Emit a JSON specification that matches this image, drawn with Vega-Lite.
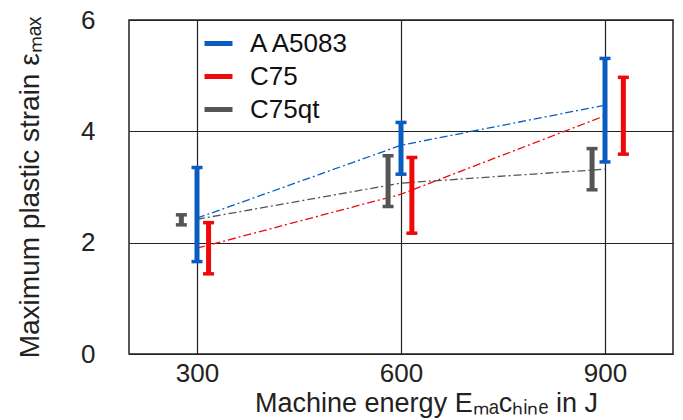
{
  "$schema": "https://vega.github.io/schema/vega-lite/v6.json",
  "width": 544,
  "height": 334,
  "autosize": {"type": "none"},
  "padding": {"left": 129, "top": 20, "right": 10, "bottom": 66},
  "background": "white",
  "config": {
    "view": {"stroke": "#222", "strokeWidth": 1.5},
    "font": "Liberation Sans",
    "axis": {
      "domain": false,
      "ticks": false,
      "grid": true,
      "gridColor": "#222",
      "gridWidth": 1.2,
      "gridOpacity": 1,
      "labelFont": "Liberation Sans",
      "labelFontSize": 26,
      "labelColor": "#222",
      "titleFont": "Liberation Sans",
      "titleFontSize": 27,
      "titleFontWeight": "normal",
      "titleColor": "#222"
    }
  },
  "data": {
    "values": [
      {"series": "AA5083", "E": 300, "xpos": 300, "mean": 2.44, "lo": 1.66, "hi": 3.35},
      {"series": "AA5083", "E": 600, "xpos": 600, "mean": 3.75, "lo": 3.23, "hi": 4.16},
      {"series": "AA5083", "E": 900, "xpos": 900, "mean": 4.47, "lo": 3.45, "hi": 5.31},
      {"series": "C75", "E": 300, "xpos": 317, "mean": 1.9, "lo": 1.44, "hi": 2.36},
      {"series": "C75", "E": 600, "xpos": 616, "mean": 2.87, "lo": 2.17, "hi": 3.53},
      {"series": "C75", "E": 900, "xpos": 927, "mean": 4.28, "lo": 3.59, "hi": 4.97},
      {"series": "C75qt", "E": 300, "xpos": 277, "mean": 2.42, "lo": 2.32, "hi": 2.5},
      {"series": "C75qt", "E": 600, "xpos": 581, "mean": 3.07, "lo": 2.65, "hi": 3.56},
      {"series": "C75qt", "E": 900, "xpos": 881, "mean": 3.32, "lo": 2.95, "hi": 3.69}
    ]
  },
  "encoding": {
    "color": {
      "field": "series",
      "type": "nominal",
      "scale": {"domain": ["AA5083", "C75", "C75qt"], "range": ["#0a5cc0", "#ee0a0a", "#555555"]},
      "legend": {
        "orient": "none",
        "legendX": 73,
        "legendY": 7,
        "title": null,
        "padding": 0,
        "symbolType": "stroke",
        "symbolSize": 784,
        "symbolStrokeWidth": 5,
        "labelFont": "Liberation Sans",
        "labelFontSize": 26,
        "labelColor": "#111",
        "labelOffset": 15,
        "rowPadding": 3,
        "labelExpr": "datum.label == 'AA5083' ? 'A A5083' : datum.label"
      }
    }
  },
  "layer": [
    {
      "mark": {"type": "line", "strokeWidth": 1.3, "strokeDash": [8, 3, 2, 3]},
      "encoding": {
        "x": {"field": "E", "type": "quantitative", "scale": {"domain": [200, 1000]},
          "title": "Machine energy Eₘₐᴄₕᵢₙₑ in J",
          "axis": {"values": [300, 600, 900], "format": "d", "labelPadding": 6, "titlePadding": 4, "titleX": 297}},
        "y": {"field": "mean", "type": "quantitative", "scale": {"domain": [0, 6]},
          "title": "Maximum plastic strain εₘₐₓ",
          "axis": {"values": [0, 2, 4, 6], "format": "d", "labelPadding": 34, "titlePadding": 36, "titleFontSize": 28}}
      }
    },
    {
      "mark": {"type": "rule", "strokeWidth": 5},
      "encoding": {
        "x": {"field": "xpos", "type": "quantitative", "title": "Machine energy Eₘₐᴄₕᵢₙₑ in J"},
        "y": {"field": "lo", "type": "quantitative", "title": "Maximum plastic strain εₘₐₓ"},
        "y2": {"field": "hi"}
      }
    },
    {
      "mark": {"type": "tick", "orient": "horizontal", "thickness": 3.5, "size": 11, "opacity": 1},
      "encoding": {
        "x": {"field": "xpos", "type": "quantitative", "title": "Machine energy Eₘₐᴄₕᵢₙₑ in J"},
        "y": {"field": "lo", "type": "quantitative", "title": "Maximum plastic strain εₘₐₓ"}
      }
    },
    {
      "mark": {"type": "tick", "orient": "horizontal", "thickness": 3.5, "size": 11, "opacity": 1},
      "encoding": {
        "x": {"field": "xpos", "type": "quantitative", "title": "Machine energy Eₘₐᴄₕᵢₙₑ in J"},
        "y": {"field": "hi", "type": "quantitative", "title": "Maximum plastic strain εₘₐₓ"}
      }
    }
  ]
}
